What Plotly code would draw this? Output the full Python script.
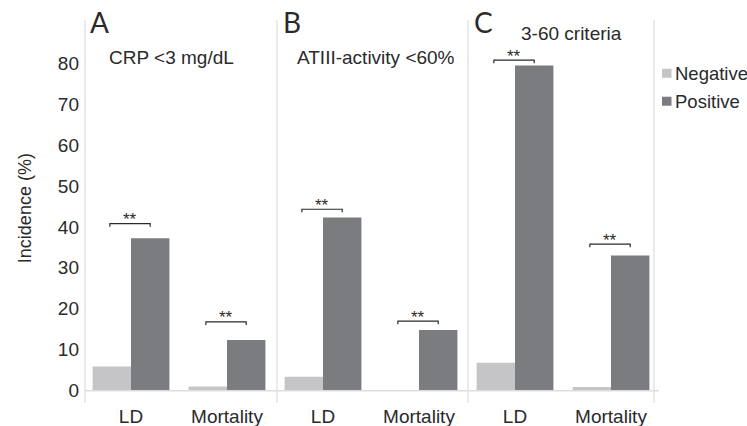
import plotly.graph_objects as go

# ---- data ----
categories = ["LD", "Mortality"]
panel_titles = ["CRP <3 mg/dL", "ATIII-activity <60%", "3-60 criteria"]
panel_letters = ["A", "B", "C"]
negative_values = [[5.9, 1.0], [3.4, 0.0], [6.8, 0.9]]
positive_values = [[37.2, 12.4], [42.3, 14.8], [79.4, 33.0]]
bracket_levels = [[40.8, 16.8], [44.3, 17.0], [80.7, 35.8]]
significance = [["**", "**"], ["**", "**"], ["**", "**"]]
y_ticks = [0, 10, 20, 30, 40, 50, 60, 70, 80]
series_names = ["Negative", "Positive"]

# ---- style ----
W, H = 747, 426
L, R, T, B = 83, 88, 19.7, 23
PW = W - L - R
PH = H - T - B
NEG_COLOR = "#c5c5c7"
POS_COLOR = "#7b7c80"
LINE_COLOR = "#dddddd"
TEXT_COLOR = "#2a2a2a"
FONT = "Liberation Sans, Arial, sans-serif"


def px_x(p):
    return (p - L) / PW


def px_y(p):
    return (H - B - p) / PH


fig = go.Figure()
axis_ids = ["x", "x2", "x3"]
for i in range(3):
    fig.add_trace(go.Bar(
        x=categories, y=negative_values[i], name=series_names[0],
        marker=dict(color=NEG_COLOR, line=dict(width=0)),
        xaxis=axis_ids[i], yaxis="y", showlegend=False, offsetgroup="neg"))
    fig.add_trace(go.Bar(
        x=categories, y=positive_values[i], name=series_names[1],
        marker=dict(color=POS_COLOR, line=dict(width=0)),
        xaxis=axis_ids[i], yaxis="y", showlegend=False, offsetgroup="pos"))

shapes = []
annotations = []

# frame lines: y axis line, separators, baseline
for xp in [85, 277, 468, 654]:
    shapes.append(dict(type="line", xref="paper", yref="y",
                       x0=px_x(xp), x1=px_x(xp), y0=-3, y1=90.5,
                       line=dict(color=LINE_COLOR, width=1.2), layer="below"))
shapes.append(dict(type="line", xref="paper", yref="y",
                   x0=px_x(85), x1=1.0, y0=0, y1=0,
                   line=dict(color=LINE_COLOR, width=1.5), layer="above"))

# significance brackets
tick_down = 0.75
for i in range(3):
    xr = axis_ids[i]
    for j in range(len(categories)):
        yb = bracket_levels[i][j]
        x0, x1 = j - 0.22, j + 0.20
        shapes.append(dict(
            type="path", xref=xr, yref="y",
            path=f"M {x0},{yb - tick_down} L {x0},{yb} L {x1},{yb} L {x1},{yb - tick_down}",
            line=dict(color=TEXT_COLOR, width=1.2)))
        annotations.append(dict(
            x=(x0 + x1) / 2, y=yb, xref=xr, yref="y", text=significance[i][j],
            showarrow=False, yanchor="middle", yshift=4,
            font=dict(family=FONT, size=17, color=TEXT_COLOR)))

# panel letters and titles
letter_x = [99, 292, 483]
title_pos = [(171.5, 57.5), (376, 57.5), (571.5, 33)]
for i in range(3):
    annotations.append(dict(
        x=px_x(letter_x[i]), y=px_y(22), xref="paper", yref="paper",
        text=panel_letters[i], showarrow=False, xanchor="center", yanchor="middle",
        font=dict(family="Lato, sans-serif", size=28, color=TEXT_COLOR)))
    annotations.append(dict(
        x=px_x(title_pos[i][0]), y=px_y(title_pos[i][1]), xref="paper", yref="paper",
        text=panel_titles[i], showarrow=False, xanchor="center", yanchor="middle",
        font=dict(family=FONT, size=19, color=TEXT_COLOR)))

# y axis title
annotations.append(dict(
    x=px_x(25), y=px_y(208), xref="paper", yref="paper", text="Incidence (%)",
    showarrow=False, textangle=-90, xanchor="center", yanchor="middle",
    font=dict(family=FONT, size=18, color=TEXT_COLOR)))

# legend (drawn manually to match compact layout)
legend_rows = [73, 101]
legend_colors = [NEG_COLOR, POS_COLOR]
for k in range(2):
    yc = legend_rows[k]
    shapes.append(dict(type="rect", xref="paper", yref="paper",
                       x0=px_x(662), x1=px_x(671.5), y0=px_y(yc + 4.5), y1=px_y(yc - 4.5),
                       fillcolor=legend_colors[k], line=dict(width=0)))
    annotations.append(dict(
        x=px_x(672.5), y=px_y(yc), xref="paper", yref="paper", text=series_names[k],
        showarrow=False, xanchor="left", yanchor="middle",
        font=dict(family=FONT, size=18.5, color=TEXT_COLOR)))

xaxis_common = dict(showgrid=False, zeroline=False, showline=False, ticks="",
                    tickfont=dict(family=FONT, size=19, color=TEXT_COLOR),
                    anchor="y", automargin=False, fixedrange=True)

fig.update_layout(
    width=W, height=H,
    margin=dict(l=L, r=R, t=T, b=B, pad=0),
    paper_bgcolor="white", plot_bgcolor="white",
    barmode="group", bargap=0.2, bargroupgap=0,
    showlegend=False,
    xaxis=dict(domain=[0, 1 / 3], **xaxis_common),
    xaxis2=dict(domain=[1 / 3, 2 / 3], **xaxis_common),
    xaxis3=dict(domain=[2 / 3, 1], **xaxis_common),
    yaxis=dict(range=[-3, 90.5], tickvals=y_ticks, showgrid=False, zeroline=False,
               showline=False, ticks="", ticklabelstandoff=3,
               tickfont=dict(family=FONT, size=19, color=TEXT_COLOR),
               automargin=False, fixedrange=True),
    shapes=shapes,
    annotations=annotations,
)

fig.write_html("out.html")
